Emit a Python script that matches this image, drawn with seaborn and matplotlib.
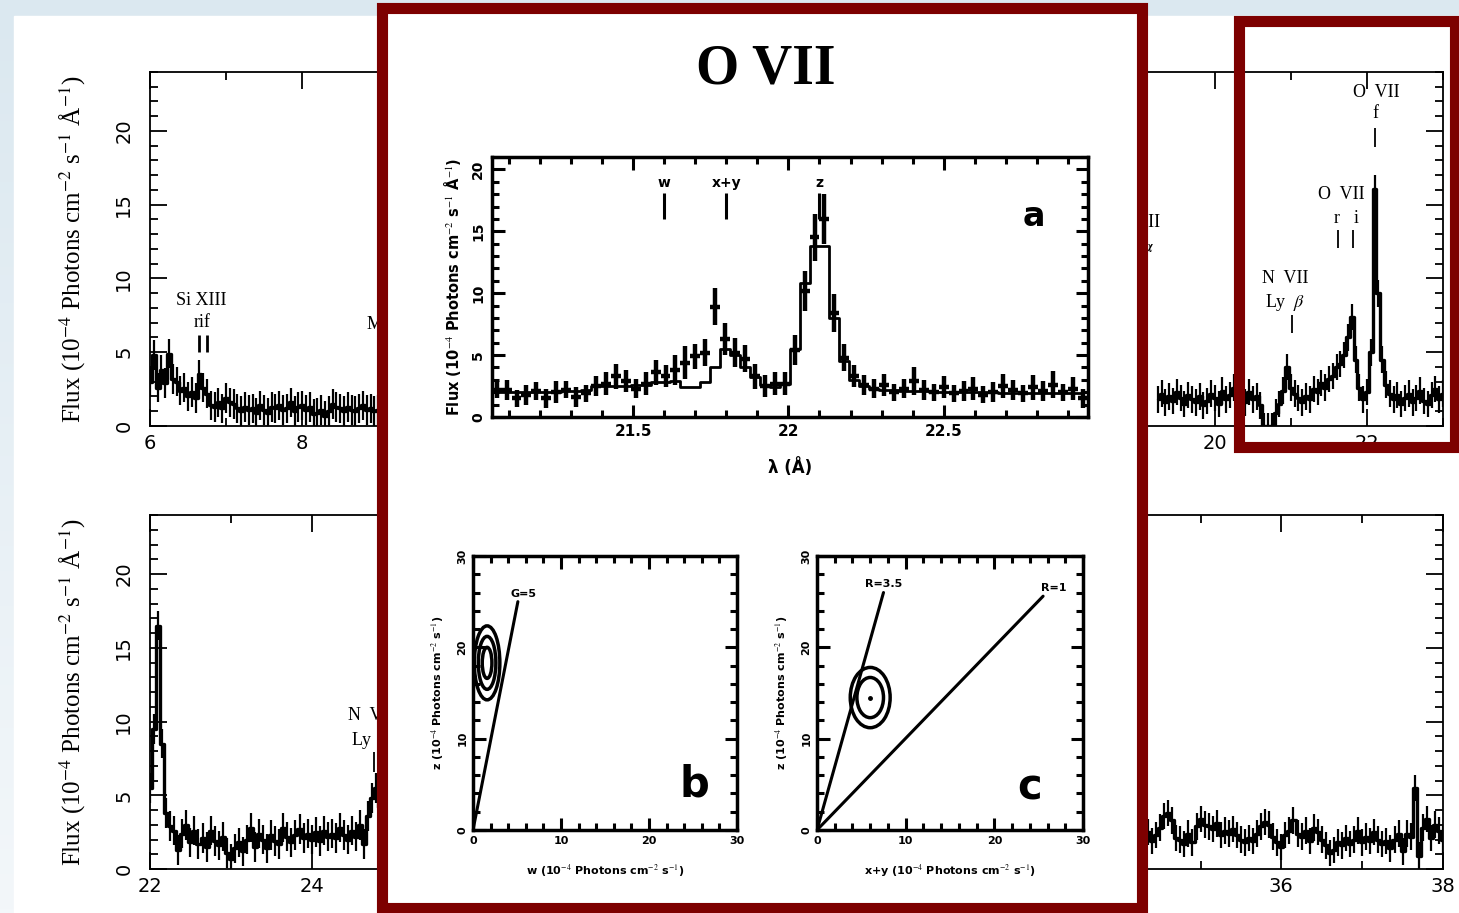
import numpy as np
import pandas as pd
import matplotlib
matplotlib.use("Agg")
import matplotlib.pyplot as plt
import seaborn as sns
from matplotlib.patches import Rectangle, Ellipse
from matplotlib.ticker import MultipleLocator

# ---------------- data ----------------
STEP = 0.05
# top spectrum, visible segment 6.0 - 9.2 A
top_left_start = 6.0
top_left_flux = [3.0, 4.8, 2.6, 3.8, 2.9, 4.9, 3.2, 3.0, 2.4, 2.6,
                 2.0, 2.3, 1.9, 3.5, 2.6, 2.2, 1.4, 1.3, 1.6, 1.2,
                 1.9, 1.6, 1.5, 1.2, 1.0, 1.3, 1.1, 1.2, 0.9, 1.4,
                 1.1, 0.9, 1.3, 1.2, 1.4, 1.1, 1.2, 1.6, 1.0, 1.3,
                 1.4, 1.1, 1.3, 0.8, 0.9, 1.1, 0.7, 1.0, 1.5, 1.3,
                 1.2, 1.0, 1.3, 1.1, 1.0, 1.2, 1.4, 1.1, 1.2, 1.0,
                 1.1, 1.0, 1.2, 1.1, 1.0]
top_left_err = 1.0
# top spectrum, visible segment 19.25 - 23.0 A
top_right_start = 19.25
top_right_flux = [1.8, 2.2, 1.6, 2.0, 1.7, 2.3, 1.9, 1.5, 2.1, 1.8,
                  1.6, 2.0, 1.4, 1.7, 2.2, 1.9, 1.5, 2.4, 1.8, 2.1,
                  2.6, 1.7, 2.0, 1.6, 2.3, 1.8, 2.0, 1.4, 0.0, 0.0,
                  0.0, 0.9, 1.5, 2.4, 4.0, 2.6, 2.2, 1.9, 1.6, 2.0,
                  1.8, 2.5, 2.3, 2.9, 2.6, 3.2, 3.4, 4.0, 4.2, 4.8,
                  6.0, 7.4, 4.5, 2.6, 1.8, 2.3, 5.0, 16.1, 9.0, 4.5,
                  2.8, 2.2, 1.8, 2.1, 1.5, 1.9, 2.2, 1.6, 1.9, 2.4,
                  1.7, 1.5, 2.1, 2.5, 1.8, 2.2]
top_right_err = 0.9
# bottom spectrum, visible segment 22.0 - 24.9 A
bot_left_start = 22.0
bot_left_flux = [5.5, 9.5, 16.5, 8.5, 3.8, 2.9, 2.6, 1.3, 2.4, 3.0,
                 1.8, 2.6, 1.7, 2.1, 1.5, 2.6, 1.9, 1.6, 2.2, 1.1,
                 0.7, 1.4, 1.8, 1.2, 2.0, 2.8, 1.5, 2.4, 2.0, 1.4,
                 2.3, 1.9, 1.7, 2.8, 2.2, 1.8, 2.3, 2.7, 2.1, 2.4,
                 2.0, 2.5, 1.9, 2.6, 2.2, 2.4, 2.1, 2.8, 2.3, 2.0,
                 2.6, 2.2, 3.0, 1.7, 3.6, 4.8, 5.5, 4.2, 3.0]
bot_left_err = 1.0
# bottom spectrum, visible segment 34.3 - 38.0 A
bot_right_start = 34.3
bot_right_flux = [2.0, 2.5, 1.9, 2.3, 2.8, 3.6, 3.8, 3.3, 2.1, 2.0,
                  1.7, 2.4, 1.8, 2.9, 3.4, 3.0, 2.9, 2.7, 3.1, 2.3,
                  2.6, 2.4, 2.7, 2.3, 2.0, 1.8, 2.1, 1.9, 2.4, 2.9,
                  3.2, 3.0, 2.2, 1.8, 1.5, 2.3, 2.6, 3.3, 2.4, 2.2,
                  2.6, 1.9, 2.8, 2.5, 2.0, 1.6, 1.1, 1.3, 1.8, 1.6,
                  2.1, 1.7, 2.0, 2.6, 1.8, 2.2, 1.9, 2.5, 2.0, 1.7,
                  1.9, 1.4, 2.0, 2.4, 1.2, 2.4, 2.2, 5.5, 0.9, 2.8,
                  3.4, 2.1, 3.0, 2.6, 2.0]
bot_right_err = 0.9

# inset a: O VII triplet
a_start = 21.06
a_step = 0.032
a_flux = [2.2, 2.2, 1.5, 1.8, 2.1, 1.5, 2.0, 2.2, 1.6, 1.9,
          2.5, 2.7, 3.3, 2.9, 2.3, 2.7, 3.6, 3.3, 3.8, 4.4,
          4.9, 5.2, 8.9, 6.3, 5.2, 4.7, 3.3, 2.5, 2.7, 2.7,
          5.4, 10.2, 14.5, 16.0, 8.4, 4.8, 3.3, 2.6, 2.3, 2.6,
          2.0, 2.3, 2.9, 2.2, 2.0, 2.4, 1.9, 2.1, 2.3, 1.8,
          2.0, 2.5, 2.2, 1.9, 2.4, 2.1, 2.6, 2.0, 2.3, 1.5]
a_err = [0.7, 0.8, 0.7, 0.8, 0.7, 0.8, 0.9, 0.7, 0.8, 0.7,
         0.8, 0.9, 1.0, 0.9, 0.8, 0.9, 1.0, 0.9, 1.2, 1.3,
         1.0, 1.1, 1.5, 1.3, 1.2, 1.1, 1.0, 0.9, 0.9, 0.9,
         1.2, 1.6, 1.9, 2.0, 1.5, 1.1, 0.9, 0.8, 0.8, 0.9,
         0.7, 0.8, 1.1, 0.8, 0.7, 0.9, 0.7, 0.8, 0.9, 0.7,
         0.8, 1.0, 0.8, 0.7, 1.0, 0.8, 1.1, 0.7, 0.9, 0.8]
a_model = [2.0, 2.0, 2.0, 2.0, 2.0, 2.0, 2.0, 2.1, 2.1, 2.2,
           2.5, 2.5, 2.5, 2.5, 2.6, 2.6, 2.8, 2.8, 2.9, 2.4,
           2.4, 2.8, 4.0, 5.5, 5.0, 4.0, 3.2, 2.6, 2.4, 2.7,
           5.5, 10.8, 13.8, 13.8, 8.0, 4.5, 3.0, 2.5, 2.3, 2.2,
           2.2, 2.1, 2.1, 2.1, 2.0, 2.0, 2.0, 2.0, 2.0, 2.0,
           2.0, 1.9, 1.9, 1.9, 1.9, 1.9, 1.9, 1.9, 1.9, 1.9]
a_line_names = ["w", "x+y", "z"]
a_line_waves = [21.60, 21.80, 22.10]

# inset b: z vs w
b_line_x = [0.0, 5.1]
b_line_y = [0.0, 25.0]
b_line_label = "G=5"
b_fit = (1.6, 18.3)
b_contour_w = [2.9, 2.0, 1.1]
b_contour_h = [8.1, 5.8, 3.4]

# inset c: z vs x+y
c_lines_x = [[0.0, 7.5], [0.0, 25.5]]
c_lines_y = [[0.0, 26.0], [0.0, 25.6]]
c_line_labels = ["R=3.5", "R=1"]
c_fit = (6.0, 14.5)
c_contour_w = [4.5, 3.0]
c_contour_h = [6.6, 4.4]

# ---------------- figure ----------------
sns.set_theme(style="white")
plt.rcParams["font.family"] = ["DejaVu Sans"]
plt.rcParams["mathtext.fontset"] = "stix"
for k in ("text.color", "axes.labelcolor", "xtick.color", "ytick.color"):
    plt.rcParams[k] = "black"

W, H = 1459, 913
fig = plt.figure(figsize=(W / 100, H / 100), dpi=100)
DARKRED = "#7d0000"
SERIF = ["Liberation Serif", "DejaVu Serif"]


def fx(px):
    return px / W


def fy(py):
    return 1 - py / H


# background (light blue strips with gradient, white page)
bg = fig.add_axes([0, 0, 1, 1], zorder=-10)
grad = np.linspace(0, 1, 256)[:, None]
bg.imshow(grad, extent=[0, W, H, 0], aspect="auto",
          cmap=matplotlib.colors.LinearSegmentedColormap.from_list(
              "bgc", ["#dbe8f0", "#f3f7fa"]))
bg.add_patch(Rectangle((14, 16), W - 14, H - 16, color="white"))
bg.set_xlim(0, W)
bg.set_ylim(H, 0)
bg.axis("off")

FLUX_LABEL = "Flux (10$^{-4}$ Photons cm$^{-2}$ s$^{-1}$ Å$^{-1}$)"


def style_main(ax, xlim):
    ax.set_xlim(*xlim)
    ax.set_ylim(0, 24)
    ax.set_facecolor("white")
    ax.xaxis.set_major_locator(MultipleLocator(2))
    ax.xaxis.set_minor_locator(MultipleLocator(1))
    ax.yaxis.set_major_locator(MultipleLocator(5))
    ax.yaxis.set_minor_locator(MultipleLocator(1))
    ax.tick_params(which="both", direction="in", top=True, right=True,
                   bottom=True, left=True, width=1.3, colors="black")
    ax.tick_params(which="major", length=12)
    ax.tick_params(which="minor", length=6)
    ax.tick_params(axis="x", labelsize=14, pad=6)
    ax.tick_params(axis="y", labelsize=14, pad=12, labelrotation=90)
    for lab in ax.get_yticklabels():
        lab.set_va("center")
    for s in ax.spines.values():
        s.set_color("black")
        s.set_linewidth(1.3)
    ax.set_xlabel("")
    ax.set_ylabel(FLUX_LABEL, fontsize=18, family=SERIF, color="black")
    ax.yaxis.set_label_coords(-0.048, 0.5)


def draw_spec(ax, start, flux, err):
    flux = np.asarray(flux, dtype=float)
    wave = start + STEP * np.arange(len(flux))
    df = pd.DataFrame({"wave": wave, "flux": flux})
    sns.lineplot(data=df, x="wave", y="flux", ax=ax, color="black", lw=2.4,
                 drawstyle="steps-mid", estimator=None, sort=False, legend=False)
    ax.vlines(wave, np.clip(flux - err, 0, None), flux + err,
              color="black", lw=1.6)


def lab(ax, x, y, s, size=13):
    ax.text(x, y, s, ha="center", va="center", fontsize=size, family=SERIF,
            color="black")


# top main panel
ax_top = fig.add_axes([fx(150), fy(426), fx(1443) - fx(150), fy(72) - fy(426)], zorder=0)
draw_spec(ax_top, top_left_start, top_left_flux, top_left_err)
draw_spec(ax_top, top_right_start, top_right_flux, top_right_err)
style_main(ax_top, (6, 23))
lab(ax_top, 6.68, 8.5, "Si XIII")
lab(ax_top, 6.68, 7.05, "rif")
ax_top.vlines([6.64, 6.75], 5.0, 6.2, color="black", lw=2)
lab(ax_top, 9.17, 6.85, "Mg XI")
lab(ax_top, 18.97, 13.8, "O VIII")
lab(ax_top, 18.97, 12.1, r"Ly $\alpha$")
lab(ax_top, 20.92, 10.0, "N  VII")
lab(ax_top, 20.92, 8.4, r"Ly  $\beta$")
ax_top.vlines([21.02], 6.3, 7.5, color="black", lw=1.3)
lab(ax_top, 21.66, 15.7, "O  VII")
lab(ax_top, 21.60, 14.1, "r")
lab(ax_top, 21.86, 14.1, "i")
ax_top.vlines([21.62, 21.82], 12.1, 13.3, color="black", lw=1.3)
lab(ax_top, 22.12, 22.6, "O  VII")
lab(ax_top, 22.11, 21.2, "f")
ax_top.vlines([22.11], 18.9, 20.2, color="black", lw=1.3)

# bottom main panel
ax_bot = fig.add_axes([fx(150), fy(869), fx(1443) - fx(150), fy(515) - fy(869)], zorder=0)
draw_spec(ax_bot, bot_left_start, bot_left_flux, bot_left_err)
draw_spec(ax_bot, bot_right_start, bot_right_flux, bot_right_err)
style_main(ax_bot, (22, 38))
lab(ax_bot, 24.74, 10.4, "N  VII")
lab(ax_bot, 24.74, 8.7, r"Ly  $\alpha$")
ax_bot.vlines([24.77], 6.6, 7.9, color="black", lw=1.3)

# big highlight box (white with dark red border)
lw_box = 8.0  # points (~11 px)
fig.add_artist(Rectangle((fx(381.5), fy(907.5)), fx(1141.5) - fx(381.5),
                         fy(8.5) - fy(907.5), transform=fig.transFigure,
                         facecolor="white", edgecolor=DARKRED, lw=lw_box,
                         zorder=1))
fig.text(fx(766), fy(70), "O VII", ha="center", va="center", fontsize=40,
         fontweight="bold", family=SERIF, color="black", zorder=5)

BOLD = dict(fontweight="bold", family=["DejaVu Sans"], color="black")


def style_inset(ax, lw=2.5):
    ax.set_facecolor("white")
    ax.tick_params(which="both", direction="in", top=True, right=True,
                   bottom=True, left=True, width=2.2, colors="black")
    ax.tick_params(which="major", length=9)
    ax.tick_params(which="minor", length=5)
    for s in ax.spines.values():
        s.set_color("black")
        s.set_linewidth(lw)
    for t in ax.get_xticklabels() + ax.get_yticklabels():
        t.set_fontweight("bold")


# inset a
ax_a = fig.add_axes([fx(492), fy(417), fx(1088) - fx(492), fy(157) - fy(417)], zorder=2)
a_wave = a_start + a_step * np.arange(len(a_flux))
df_a = pd.DataFrame({"wave": a_wave, "flux": a_flux, "model": a_model})
ax_a.errorbar(a_wave, a_flux, xerr=a_step / 2, yerr=a_err, fmt="none",
              ecolor="black", elinewidth=3.2, capsize=0)
sns.lineplot(data=df_a, x="wave", y="model", ax=ax_a, color="black", lw=2.0,
             drawstyle="steps-mid", estimator=None, sort=False, legend=False)
ax_a.set_xlim(21.045, 22.965)
ax_a.set_ylim(0, 21)
ax_a.xaxis.set_major_locator(MultipleLocator(0.5))
ax_a.xaxis.set_minor_locator(MultipleLocator(0.1))
ax_a.yaxis.set_major_locator(MultipleLocator(5))
ax_a.yaxis.set_minor_locator(MultipleLocator(1))
ax_a.set_xticks([21.5, 22.0, 22.5])
ax_a.set_xticklabels(["21.5", "22", "22.5"])
ax_a.tick_params(axis="x", labelsize=11, pad=5)
ax_a.tick_params(axis="y", labelsize=10, pad=5, labelrotation=90)
style_inset(ax_a)
for t in ax_a.get_yticklabels():
    t.set_va("center")
ax_a.set_xlabel("λ (Å)", fontsize=12, labelpad=14, **BOLD)
ax_a.set_ylabel(FLUX_LABEL, fontsize=10.5, labelpad=6, **BOLD)
for name, wv in zip(a_line_names, a_line_waves):
    ax_a.text(wv, 18.9, name, ha="center", va="center", fontsize=10, **BOLD)
    ax_a.vlines(wv, 16.0, 18.1, color="black", lw=2.2)
ax_a.text(22.79, 16.2, "a", ha="center", va="center", fontsize=24, **BOLD)

# inset b
ax_b = fig.add_axes([fx(473), fy(830), fx(737) - fx(473), fy(556) - fy(830)], zorder=2)
df_b = pd.DataFrame({"x": b_line_x, "y": b_line_y})
sns.lineplot(data=df_b, x="x", y="y", ax=ax_b, color="black", lw=2.2,
             estimator=None, sort=False, legend=False)
for w_, h_ in zip(b_contour_w, b_contour_h):
    ax_b.add_patch(Ellipse(b_fit, w_, h_, fill=False, ec="black", lw=2.5))
ax_b.text(b_line_x[1] + 0.6, b_line_y[1] + 0.8, b_line_label, ha="center",
          va="center", fontsize=8, **BOLD)
ax_b.text(25.2, 5.0, "b", ha="center", va="center", fontsize=30, **BOLD)

# inset c
ax_c = fig.add_axes([fx(817), fy(830), fx(1083) - fx(817), fy(556) - fy(830)], zorder=2)
for xs, ys in zip(c_lines_x, c_lines_y):
    df_c = pd.DataFrame({"x": xs, "y": ys})
    sns.lineplot(data=df_c, x="x", y="y", ax=ax_c, color="black", lw=2.2,
                 estimator=None, sort=False, legend=False)
for w_, h_ in zip(c_contour_w, c_contour_h):
    ax_c.add_patch(Ellipse(c_fit, w_, h_, fill=False, ec="black", lw=2.5))
ax_c.plot([c_fit[0]], [c_fit[1]], marker="o", ms=2.5, color="black")
ax_c.text(c_lines_x[0][1], c_lines_y[0][1] + 0.9, c_line_labels[0], ha="center",
          va="center", fontsize=8, **BOLD)
ax_c.text(c_lines_x[1][1] - 0.2, c_lines_y[1][1] + 0.9, c_line_labels[1], ha="left",
          va="center", fontsize=8, **BOLD)
ax_c.text(24.0, 4.6, "c", ha="center", va="center", fontsize=30, **BOLD)

for ax, xl in ((ax_b, "w (10$^{-4}$ Photons cm$^{-2}$ s$^{-1}$)"),
               (ax_c, "x+y (10$^{-4}$ Photons cm$^{-2}$ s$^{-1}$)")):
    ax.set_xlim(0, 30)
    ax.set_ylim(0, 30)
    ax.xaxis.set_major_locator(MultipleLocator(10))
    ax.xaxis.set_minor_locator(MultipleLocator(2))
    ax.yaxis.set_major_locator(MultipleLocator(10))
    ax.yaxis.set_minor_locator(MultipleLocator(2))
    ax.tick_params(axis="x", labelsize=8, pad=4)
    ax.tick_params(axis="y", labelsize=8, pad=4, labelrotation=90)
    style_inset(ax)
    for t in ax.get_yticklabels():
        t.set_va("center")
    ax.set_xlabel(xl, fontsize=8, labelpad=12, **BOLD)
    ax.set_ylabel("z (10$^{-4}$ Photons cm$^{-2}$ s$^{-1}$)", fontsize=8,
                  labelpad=8, **BOLD)

# small highlight box around the O VII triplet
fig.add_artist(Rectangle((fx(1238.5), fy(447.5)), fx(1454.5) - fx(1238.5),
                         fy(21.5) - fy(447.5), transform=fig.transFigure,
                         facecolor="none", edgecolor=DARKRED, lw=lw_box,
                         zorder=3))

fig.savefig("out.png", dpi=100)
